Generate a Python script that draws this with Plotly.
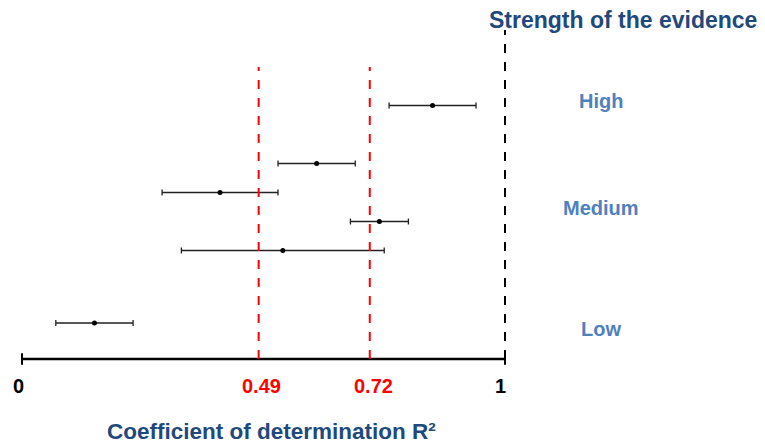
import plotly.graph_objects as go

# Data
r2_center = [0.85, 0.61, 0.41, 0.74, 0.54, 0.15]
r2_low = [0.76, 0.53, 0.29, 0.68, 0.33, 0.07]
r2_high = [0.94, 0.69, 0.53, 0.80, 0.75, 0.23]
row_pos = [8.5, 6.5, 5.5, 4.5, 3.5, 1.0]
thresholds = [0.49, 0.72]
tick_labels = ["0", "0.49", "0.72", "1"]
tick_colors = ["black", "red", "red", "black"]
evidence_labels = ["High", "Medium", "Low"]
evidence_pos = [8.65, 4.95, 0.8]

FONT = "Liberation Sans, Arial"
PX = 483.0      # pixels per unit of R2
X0 = 22.0       # page pixel of R2 = 0
YP = 29.0       # pixels per y unit
Y1 = 323.0      # page pixel of y = 1

def xr(px):
    return (px - X0) / PX

def yr(py):
    return 1 + (Y1 - py) / YP

fig = go.Figure()
fig.add_trace(go.Scatter(
    x=r2_center, y=row_pos, mode="markers",
    marker=dict(color="black", size=5),
    error_x=dict(type="data", symmetric=False,
                 array=[h - c for h, c in zip(r2_high, r2_center)],
                 arrayminus=[c - l for c, l in zip(r2_center, r2_low)],
                 color="#222222", thickness=1.3, width=3),
    showlegend=False, hoverinfo="skip"))

y_axis = yr(359)
fig.add_shape(type="line", x0=0, x1=1, y0=y_axis, y1=y_axis,
              line=dict(color="black", width=2.5))
for xv in [0, 1]:
    fig.add_shape(type="line", x0=xv, x1=xv, y0=y_axis - 0.2, y1=y_axis + 0.2,
                  line=dict(color="black", width=2))
for t in thresholds:
    fig.add_shape(type="line", x0=t, x1=t, y0=y_axis, y1=yr(67),
                  line=dict(color="red", width=2, dash="dash"))
fig.add_shape(type="line", x0=1, x1=1, y0=y_axis, y1=yr(30),
              line=dict(color="black", width=2, dash="dash"))

tick_label_x = [xr(18), xr(261), xr(373.5), xr(500)]
for v, lab, col in zip(tick_label_x, tick_labels, tick_colors):
    fig.add_annotation(x=v, y=yr(386), text="<b>" + lab + "</b>", showarrow=False,
                       font=dict(family=FONT, size=20, color=col),
                       xanchor="center", yanchor="middle")

for lab, yp in zip(evidence_labels, evidence_pos):
    fig.add_annotation(x=xr(601), y=yp, text="<b>" + lab + "</b>", showarrow=False,
                       font=dict(family=FONT, size=20, color="#4f81bd"),
                       xanchor="center", yanchor="middle")

fig.add_annotation(x=xr(623), y=yr(20),
                   text="<b>Strength of the evidence</b>", showarrow=False,
                   font=dict(family=FONT, size=23, color="#1f497d"),
                   xanchor="center", yanchor="middle")
fig.add_annotation(x=xr(271), y=yr(431),
                   text="<b>Coefficient of determination R²</b>", showarrow=False,
                   font=dict(family=FONT, size=22.5, color="#1f497d"),
                   xanchor="center", yanchor="middle")

fig.update_layout(
    width=765, height=444,
    margin=dict(l=0, r=0, t=0, b=0),
    plot_bgcolor="white", paper_bgcolor="white",
    xaxis=dict(range=[xr(0), xr(765)], visible=False, fixedrange=True),
    yaxis=dict(range=[yr(444), yr(0)], visible=False, fixedrange=True),
)

fig.write_html("out.html", config={"displayModeBar": False},
               post_script="document.body.style.margin='0';document.body.style.overflow='hidden';")
